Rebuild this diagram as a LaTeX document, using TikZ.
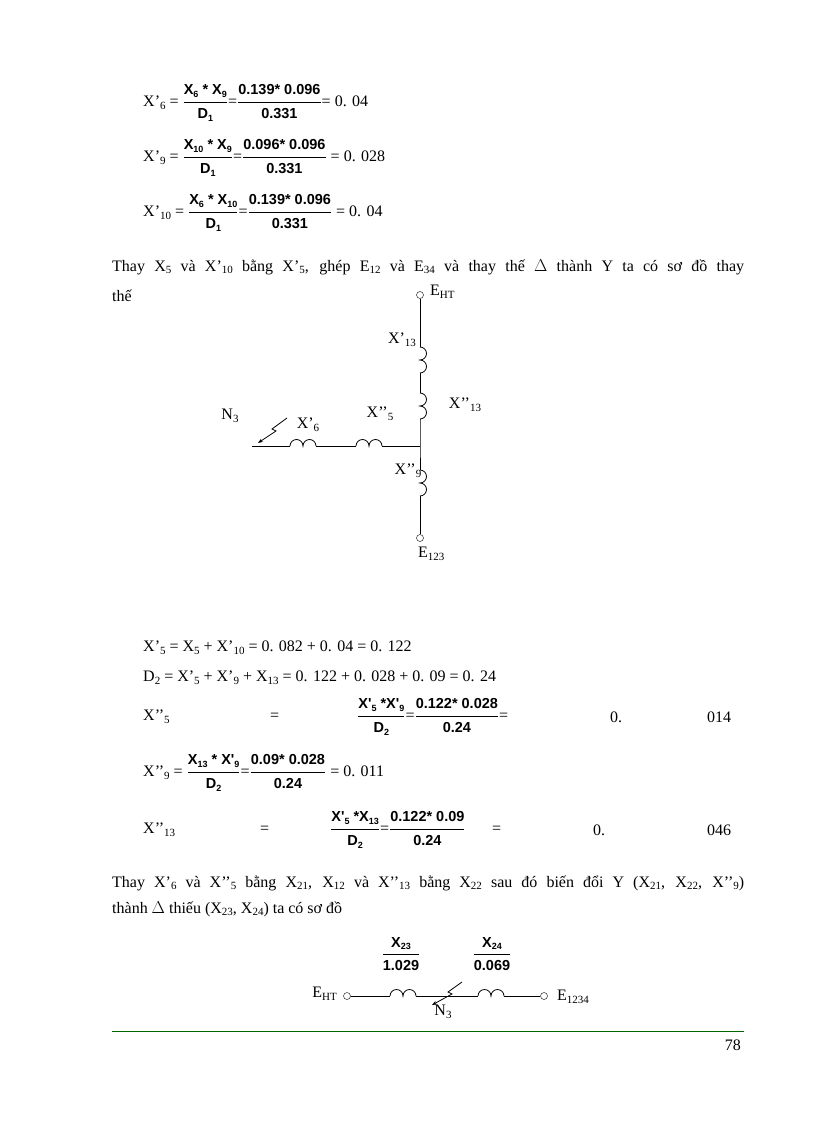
\documentclass[tikz,border=0pt]{standalone}
\usepackage{fontspec}
\setmainfont{Liberation Serif}
\newfontfamily\bsf{Liberation Sans}
\usetikzlibrary{arrows.meta}
\tikzset{x=1pt,y=-1pt,
 txt/.style={anchor=west,inner sep=0pt,font=\fontsize{16}{18}\selectfont},
 lbl/.style={inner sep=0pt,font=\fontsize{16}{18}\selectfont},
 wire/.style={line width=0.8pt},
 term/.style={circle,draw,inner sep=0pt,minimum size=7pt,fill=white}}
\newcommand{\dn}[1]{\raisebox{-0.35ex}{\fontsize{11}{12}\selectfont #1}}
\newcommand{\fr}[2]{$\displaystyle\frac{\hbox{\bsf\bfseries\fontsize{14.5}{16}\selectfont #1}}{\hbox{\bsf\bfseries\fontsize{14.5}{16}\selectfont #2}}$}
\newcommand{\bd}[1]{\raisebox{-0.35ex}{\fontsize{9}{10}\selectfont #1}}
\newcommand{\jline}[1]{\hbox to 632pt{\spaceskip=4pt plus 1fil #1}}
\newcommand{\vind}[2]{\draw[wire] (#1,#2) arc[start angle=90,end angle=-90,radius=6.5pt] arc[start angle=90,end angle=-90,radius=6.5pt];}
\newcommand{\hind}[2]{\draw[wire] (#1,#2) arc[start angle=180,end angle=0,radius=6.5pt] arc[start angle=180,end angle=0,radius=6.5pt];}
\begin{document}
\begin{tikzpicture}
\useasboundingbox (0,0) rectangle (816,1123);
\fill[white] (0,0) rectangle (816,1123);
% top formulas
\node[txt] (a1) at (143,103) {X’\dn{6} = \fr{X\bd{6} * X\bd{9}}{D\bd{1}}=\fr{0.139* 0.096}{0.331}= 0. 04};
\node[txt] (a3) at (143,158) {X’\dn{9} = \fr{X\bd{10} * X\bd{9}}{D\bd{1}}=\fr{0.096* 0.096}{0.331} = 0. 028};
\node[txt] (a4) at (143,213) {X’\dn{10} = \fr{X\bd{6} * X\bd{10}}{D\bd{1}}=\fr{0.139* 0.096}{0.331} = 0. 04};
\node[txt] (p1) at (112,267) {\jline{Thay X\dn{5} và X’\dn{10} bằng X’\dn{5}, ghép E\dn{12} và E\dn{34} và thay thế $\Delta$ thành Y ta có sơ đồ thay}};
\node[txt] (p2) at (112,296) {thế};
% circuit 1
\coordinate (jn) at (420,446);
\node[term] (eht) at (420,295) {};
\node[lbl,anchor=west] (leht) at (430,292) {E\dn{HT}};
\draw[wire] (eht) -- (420,347);
\vind{420}{347}
\draw[wire] (420,373) -- (420,393);
\vind{420}{393}
\draw[wire] (420,419) -- (jn) -- (420,470);
\vind{420}{470}
\node[term] (e123) at (420,538) {};
\draw[wire] (420,496) -- (e123);
\node[lbl,anchor=west] (le123) at (418,554) {E\dn{123}};
\node[lbl] (l13a) at (402,340) {X’\dn{13}};
\node[lbl] (l13b) at (465,405) {X’’\dn{13}};
\node[lbl] (l9) at (408,471) {X’’\dn{9}};
\coordinate (hst) at (252,446);
\draw[wire] (hst) -- (290,446);
\hind{290}{446}
\draw[wire] (316,446) -- (356,446);
\hind{356}{446}
\draw[wire] (382,446) -- (jn);
\node[lbl] (n3) at (230,416) {N\dn{3}};
\node[lbl] (l6) at (308,425) {X’\dn{6}};
\node[lbl] (l5) at (380,414) {X’’\dn{5}};
\draw[wire,-{Stealth[length=5pt]}] (287,418) -- (272,429) -- (276,431) -- (258,443);
% bottom formulas
\node[txt] (f1) at (143,648) {X’\dn{5} = X\dn{5} + X’\dn{10} = 0. 082 + 0. 04 = 0. 122};
\node[txt] (f2) at (143,678) {D\dn{2} = X’\dn{5} + X’\dn{9} + X\dn{13} = 0. 122 + 0. 028 + 0. 09 = 0. 24};
\node[txt] (f3) at (143,717) {X’’\dn{5}};
\node[txt] (f3e) at (270,717) {=};
\node[txt] (f3f) at (357,717) {\fr{X'\bd{5} *X'\bd{9}}{D\bd{2}}=\fr{0.122* 0.028}{0.24}=};
\node[txt] (f3a) at (610,717) {0.};
\node[txt] (f3b) at (707,717) {014};
\node[txt] (f4) at (143,773) {X’’\dn{9} = \fr{X\bd{13} * X'\bd{9}}{D\bd{2}}=\fr{0.09* 0.028}{0.24} = 0. 011};
\node[txt] (f5) at (143,830) {X’’\dn{13}};
\node[txt] (f5e) at (260,830) {=};
\node[txt] (f5f) at (330,830) {\fr{X'\bd{5} *X\bd{13}}{D\bd{2}}=\fr{0.122* 0.09}{0.24}};
\node[txt] (f5g) at (492,830) {=};
\node[txt] (f5a) at (593,830) {0.};
\node[txt] (f5b) at (707,830) {046};
\node[txt] (p3) at (112,883) {\jline{Thay X’\dn{6} và X’’\dn{5} bằng X\dn{21}, X\dn{12} và X’’\dn{13} bằng X\dn{22} sau đó biến đổi Y (X\dn{21}, X\dn{22}, X’’\dn{9})}};
\node[txt] (p4) at (112,909) {thành $\Delta$ thiếu (X\dn{23}, X\dn{24}) ta có sơ đồ};
% circuit 2
\node[term] (e1) at (347,996) {};
\node[term] (e2) at (544,996) {};
\node[lbl,anchor=east] (le1) at (337,994) {E\dn{HT}};
\node[lbl,anchor=west] (le2) at (557,997) {E\dn{1234}};
\draw[wire] (e1) -- (390,996);
\hind{390}{996}
\draw[wire] (416,996) -- (478,996);
\hind{478}{996}
\draw[wire] (504,996) -- (e2);
\node[lbl] (n3b) at (443,1012) {N\dn{3}};
\draw[wire,-{Stealth[length=5pt]}] (462,982) -- (448,992) -- (452,994) -- (432,1005);
\node[lbl] (fx23) at (401,954) {\fr{X\bd{23}}{1.029}};
\node[lbl] (fx24) at (492,954) {\fr{X\bd{24}}{0.069}};
% footer
\coordinate (fl) at (112,1031);
\coordinate (fr) at (744,1031);
\draw[line width=0.8pt,green!40!black] (fl) -- (fr);
\node[lbl,anchor=east] (pg) at (741,1045) {78};
\end{tikzpicture}
\end{document}
